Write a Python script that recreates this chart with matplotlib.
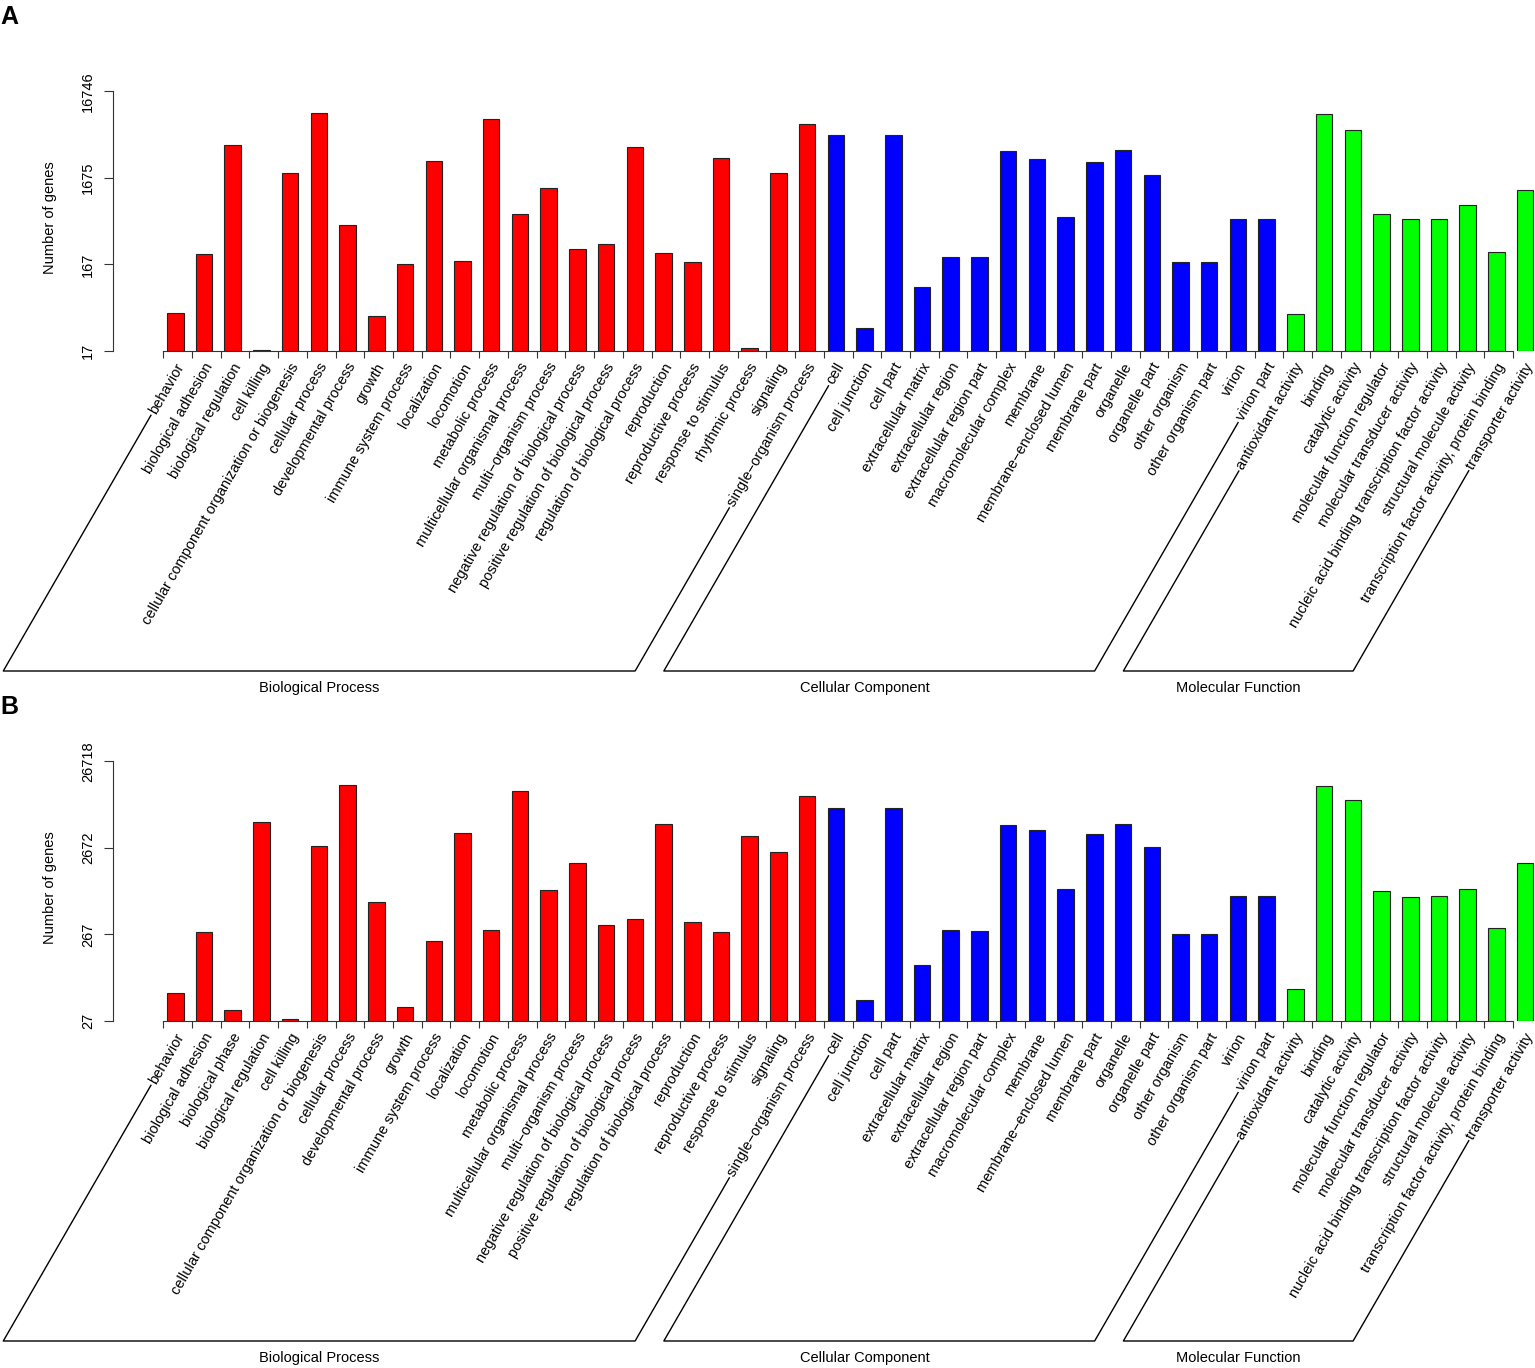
import numpy as np
import matplotlib
matplotlib.use('Agg')
import matplotlib.pyplot as plt
from matplotlib.lines import Line2D
from matplotlib.ticker import NullLocator
from matplotlib import transforms

plt.rcParams['font.family'] = ['Liberation Sans', 'DejaVu Sans']

# ---- data ----
bp_labels_a = ['behavior', 'biological adhesion', 'biological regulation', 'cell killing',
               'cellular component organization or biogenesis', 'cellular process',
               'developmental process', 'growth', 'immune system process', 'localization',
               'locomotion', 'metabolic process', 'multicellular organismal process',
               'multi\u2212organism process', 'negative regulation of biological process',
               'positive regulation of biological process', 'regulation of biological process',
               'reproduction', 'reproductive process', 'response to stimulus',
               'rhythmic process', 'signaling', 'single\u2212organism process']
bp_labels_b = ['behavior', 'biological adhesion', 'biological phase', 'biological regulation',
               'cell killing', 'cellular component organization or biogenesis',
               'cellular process', 'developmental process', 'growth', 'immune system process',
               'localization', 'locomotion', 'metabolic process',
               'multicellular organismal process', 'multi\u2212organism process',
               'negative regulation of biological process',
               'positive regulation of biological process', 'regulation of biological process',
               'reproduction', 'reproductive process', 'response to stimulus', 'signaling',
               'single\u2212organism process']
cc_labels = ['cell', 'cell junction', 'cell part', 'extracellular matrix',
             'extracellular region', 'extracellular region part', 'macromolecular complex',
             'membrane', 'membrane\u2212enclosed lumen', 'membrane part', 'organelle',
             'organelle part', 'other organism', 'other organism part', 'virion', 'virion part']
mf_labels = ['antioxidant activity', 'binding', 'catalytic activity',
             'molecular function regulator', 'molecular transducer activity',
             'nucleic acid binding transcription factor activity',
             'structural molecule activity', 'transcription factor activity, protein binding',
             'transporter activity']

bp_a = [46, 221, 3979, 17.2, 1906, 9405, 482, 43, 171, 2600, 182, 7944, 641, 1268,
        255, 286, 3806, 225, 177, 2864, 18, 1889, 7017]
cc_a = [5238, 31, 5238, 91, 202, 202, 3391, 2767, 591, 2531, 3515, 1807, 177, 177, 561, 561]
mf_a = [45, 9237, 6037, 635, 556, 556, 807, 235, 1202]

bp_b = [56, 287, 36, 5317, 28, 2809, 14097, 639, 39, 226, 3933, 303, 12128, 863, 1803,
        343, 403, 5087, 372, 283, 3631, 2373, 10525]
cc_b = [7717, 47, 7717, 118, 300, 295, 4863, 4259, 895, 3898, 5087, 2734, 273, 273, 742, 742]
mf_b = [63, 13851, 9546, 848, 717, 736, 887, 317, 1787]

total_a = 16746
total_b = 26718

group_names = ['Biological Process', 'Cellular Component', 'Molecular Function']
group_colors = ['#FF0000', '#0000FF', '#00FF00']

# ---- layout (pixels) ----
W, H = 1535, 1368
fig = plt.figure(figsize=(W / 100, H / 100), dpi=100)
FS = 10.5
SLOT = 28.72
TICK0 = 163.3
AX_LEFT = 113
LAB_DX = 0.6
ANG = np.deg2rad(60)
u = np.array([np.cos(ANG), np.sin(ANG)])


def draw_panel(letter, letter_top, top_px, bottom_px, groups, total):
    ax = fig.add_axes([AX_LEFT / W, 1 - bottom_px / H, (W - AX_LEFT) / W,
                       (bottom_px - top_px) / H])
    base = total / 1000.0
    labels = sum([g[0] for g in groups], [])
    vals = sum([list(g[1]) for g in groups], [])
    cols = sum([[c] * len(g[1]) for g, c in zip(groups, group_colors)], [])
    n = len(vals)
    x = np.arange(n)
    v = np.array(vals, dtype=float)
    ax.bar(x + 0.13, v - base, bottom=base, width=0.575, align='edge',
           color=cols, edgecolor='#222222', linewidth=0.8)
    ax.set_yscale('log')
    ax.set_ylim(base, total)
    ax.set_xlim(-(TICK0 - AX_LEFT) / SLOT, (W - TICK0) / SLOT)
    for s in ['top', 'right']:
        ax.spines[s].set_visible(False)
    ax.spines['left'].set_bounds(base, total)
    ax.spines['bottom'].set_bounds(0, n - 1)
    for s in ['left', 'bottom']:
        ax.spines[s].set_linewidth(0.8)
        ax.spines[s].set_color('#333333')
    yt = [total / 1000, total / 100, total / 10, total]
    ax.set_yticks(yt)
    ax.set_yticklabels([str(int(round(t))) for t in yt], rotation=90, va='center',
                       fontsize=FS)
    ax.yaxis.set_minor_locator(NullLocator())
    ax.set_xticks(x)
    ax.set_xticklabels([])
    ax.tick_params(axis='y', length=6.5, width=0.8, pad=6.5, color='#333333')
    ax.tick_params(axis='x', length=5, width=0.8, color='#333333')
    fig.text(50 / W, 1 - ((top_px + bottom_px) / 2 - 4) / H, 'Number of genes',
             rotation=90, ha='center', va='center', fontsize=FS)
    fig.text(0.5 / W, 1 - letter_top / H, letter, fontsize=18,
             fontweight='bold', ha='left', va='top')

    # rotated category labels
    lab_tr = transforms.offset_copy(ax.get_xaxis_transform(), fig=fig, x=0, y=-13,
                                    units='dots')
    texts = []
    for k, lab in enumerate(labels):
        t = ax.text(k + LAB_DX, 0, lab, transform=lab_tr, rotation=60,
                    rotation_mode='anchor', ha='right', va='center', fontsize=FS)
        texts.append(t)

    fig.canvas.draw()
    rend = fig.canvas.get_renderer()
    axis_y = ax.transAxes.transform((0, 0))[1]
    y_low = axis_y - 320
    inv = fig.transFigure.inverted()

    def foot(k):
        t = texts[k]
        anchor = lab_tr.transform((k + LAB_DX, 0))
        w, _, _ = rend.get_text_width_height_descent(t.get_text(), t.get_fontproperties(),
                                                     ismath=False)
        start = anchor - (w + 3) * u
        xb = start[0] - (start[1] - y_low) * u[0] / u[1]
        return start, np.array([xb, y_low])

    i0 = 0
    label_shift = [0, -14, 0]
    for gi, g in enumerate(groups):
        i1 = i0 + len(g[1]) - 1
        s0, b0 = foot(i0)
        s1, b1 = foot(i1)
        pts = np.array([s0, b0, b1, s1])
        fp = inv.transform(pts)
        fig.add_artist(Line2D(fp[:, 0], fp[:, 1], color='black', linewidth=1.0))
        cx = (b0[0] + b1[0]) / 2 + label_shift[gi]
        c = inv.transform((cx, axis_y - 337))
        fig.text(c[0], c[1], group_names[gi], ha='center', va='center', fontsize=FS)
        i0 = i1 + 1
    return ax


draw_panel('A', 5, 91.3, 351, [(bp_labels_a, bp_a), (cc_labels, cc_a), (mf_labels, mf_a)],
           total_a)
draw_panel('B', 695, 761.3, 1021, [(bp_labels_b, bp_b), (cc_labels, cc_b), (mf_labels, mf_b)],
           total_b)

fig.savefig('out.png', dpi=100)
